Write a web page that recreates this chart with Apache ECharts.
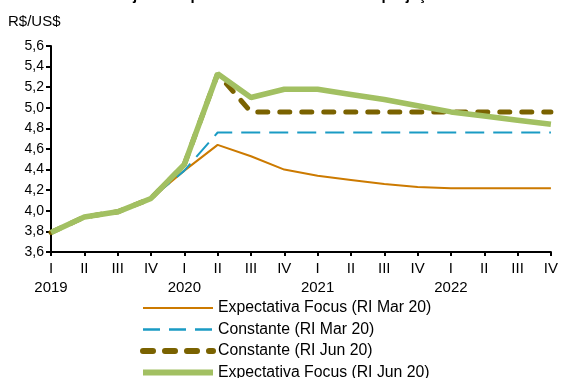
<!DOCTYPE html>
<html><head><meta charset="utf-8">
<script src="https://cdn.jsdelivr.net/npm/echarts@6/dist/echarts.min.js"></script>
<style>html,body{margin:0;padding:0;background:#fff}#c{width:561px;height:378px}</style>
</head><body><div id="c"></div>
<script>
var quarters = ['I','II','III','IV','I','II','III','IV','I','II','III','IV','I','II','III','IV'];
var years = ['2019','','','','2020','','','','2021','','','','2022','','',''];
var focusMar = [3.79,3.94,3.99,4.12,4.39,4.64,4.53,4.40,4.34,4.30,4.26,4.23,4.22,4.22,4.22,4.22];
var constMar = [3.79,3.94,3.99,4.12,4.39,4.76,4.76,4.76,4.76,4.76,4.76,4.76,4.76,4.76,4.76,4.76];
var constJun = [3.79,3.94,3.99,4.12,4.45,5.33,4.96,4.96,4.96,4.96,4.96,4.96,4.96,4.96,4.96,4.96];
var focusJun = [3.79,3.94,3.99,4.12,4.45,5.33,5.10,5.18,5.18,5.13,5.08,5.02,4.96,4.92,4.88,4.84];
var names = ['Expectativa Focus (RI Mar 20)','Constante (RI Mar 20)','Constante (RI Jun 20)','Expectativa Focus (RI Jun 20)'];

var chart = echarts.init(document.getElementById('c'), null, {renderer:'canvas'});
var font = 'Liberation Sans, Arial, sans-serif';
chart.setOption({
  animation:false,
  backgroundColor:'#fff',
  textStyle:{fontFamily:font},
  title:{text:'Gráfico 2.16 – Trajetórias para a taxa de câmbio nas projeções', left:8, top:-12, padding:0,
    textStyle:{fontSize:15, fontWeight:'bold', color:'#000', fontFamily:font}},
  grid:{left:51, right:8, top:46, bottom:126, containLabel:false},
  legend:{orient:'vertical', left:140, top:300, height:110, padding:0, itemWidth:70, itemHeight:14, itemGap:5.5,
    itemStyle:{opacity:0},
    textStyle:{fontSize:15.8, lineHeight:14, color:'#000', fontFamily:font},
    data:[
      {name:names[0], lineStyle:{width:2}},
      {name:names[1], lineStyle:{width:2.5, type:[17,9]}},
      {name:names[2], lineStyle:{width:6, type:[10,12], cap:'round'}},
      {name:names[3], lineStyle:{width:6}}
    ]},
  xAxis:{type:'category', boundaryGap:false, data:quarters,
    axisLine:{lineStyle:{color:'#000', width:2}},
    axisTick:{show:true, alignWithLabel:true, length:4, lineStyle:{color:'#000', width:2}},
    axisLabel:{interval:0, color:'#000', fontSize:15, margin:7, lineHeight:19,
      formatter:function(v,i){ return years[i] ? v + '\n' + years[i] : v; }}},
  yAxis:{type:'value', min:3.6, max:5.6, interval:0.2,
    name:'R$/US$', nameLocation:'end', nameGap:17,
    nameTextStyle:{color:'#000', fontSize:15, align:'left', padding:[0,0,0,-43]},
    axisLine:{show:true, lineStyle:{color:'#000', width:2}},
    axisTick:{show:true, length:5, lineStyle:{color:'#000', width:2}},
    splitLine:{show:false},
    axisLabel:{color:'#000', fontSize:14, margin:7,
      formatter:function(v){ return v.toFixed(1).replace('.', ','); }}},
  series:[
    {name:names[0], type:'line', data:focusMar, symbol:'none', z:2,
     lineStyle:{color:'#cc7a00', width:2}, itemStyle:{color:'#cc7a00'}},
    {name:names[1], type:'line', data:constMar, symbol:'none', z:3,
     lineStyle:{color:'#1a9bc4', width:2, type:[19,9]}, itemStyle:{color:'#1a9bc4'}},
    {name:names[2], type:'line', data:constJun, symbol:'none', z:4,
     lineStyle:{color:'#7a6200', width:5, type:[10,12], cap:'round'}, itemStyle:{color:'#7a6200'}},
    {name:names[3], type:'line', data:focusJun, symbol:'none', z:5,
     lineStyle:{color:'#a2c062', width:5.5}, itemStyle:{color:'#a2c062'}}
  ]
});
</script></body></html>
